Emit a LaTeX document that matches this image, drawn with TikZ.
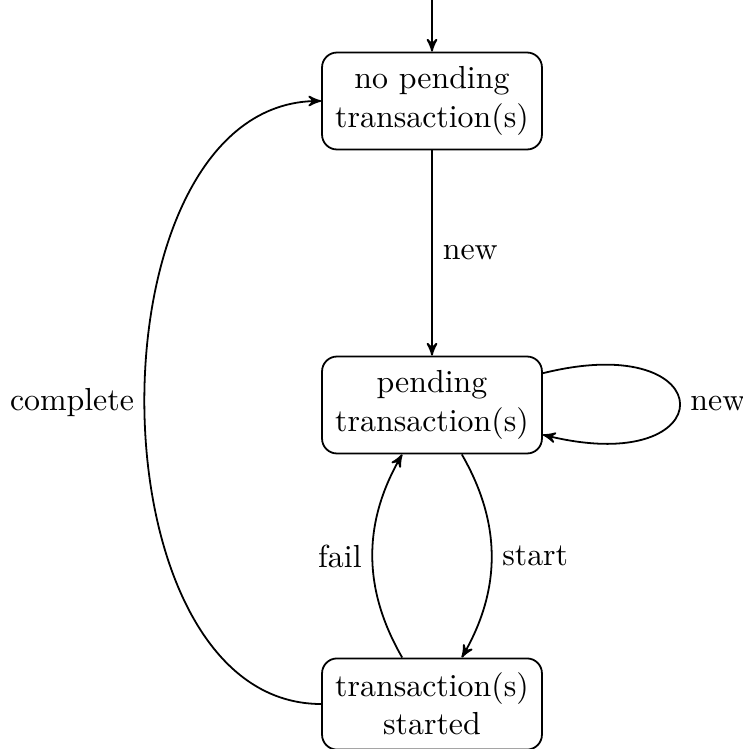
\documentclass[tikz,border=0pt]{standalone}
\usetikzlibrary{arrows}
\begin{document}
\begin{tikzpicture}[x=0.3356pt, y=0.3356pt, >=stealth', line width=0.6pt,
  every node/.style={font=\fontsize{10.7}{12.84}\selectfont},
  state/.style={draw, rounded corners=5pt, align=center, inner xsep=3.4pt, inner ysep=4.8pt, minimum width=73.8pt},
  edge/.style={->}]
\useasboundingbox (0,0) rectangle (742,-749);
% states
\node[state] (idle) at (432,-101) {no pending\\transaction(s)};
\node[state] (pend) at (432,-405) {pending\\transaction(s)};
\node[state] (run)  at (432,-704) {transaction(s)\\started};
\coordinate (init) at (432,0);
% transitions
\draw[edge] (init) -- (idle);
\draw[edge] (idle) -- node[right] {new} (pend);
\draw[edge] (pend.16) .. controls +(14:188) and +(-14:188) .. node[right] {new} (pend.-15);
\draw[edge] ([xshift=10pt]pend.south) to[bend left=30] node[right] {start} ([xshift=10pt]run.north);
\draw[edge] ([xshift=-10pt]run.north) to[bend left=30] node[left] {fail} ([xshift=-10pt]pend.south);
\draw[edge] (run.west) to[out=180, in=180] node[left] {complete} (idle.west);
\end{tikzpicture}
\end{document}
